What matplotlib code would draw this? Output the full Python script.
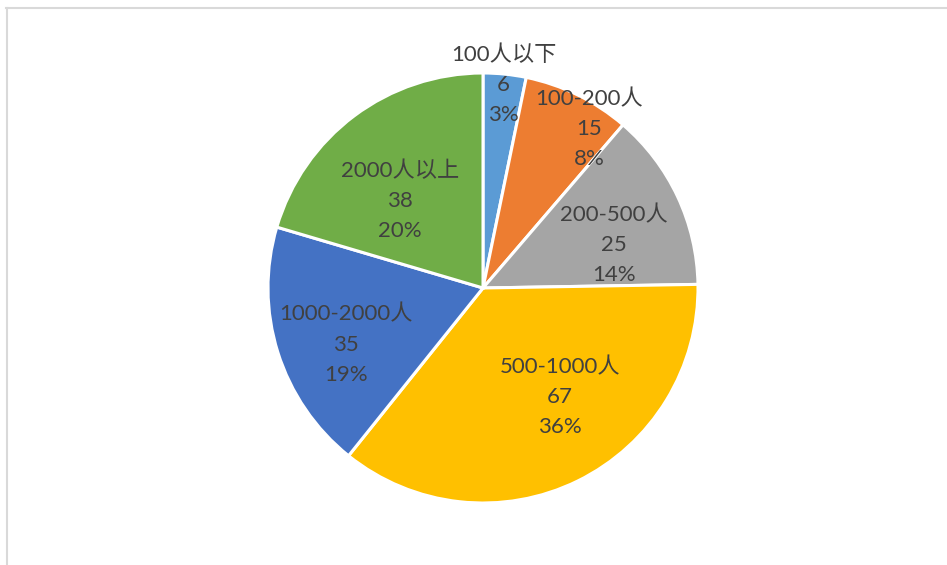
import numpy as np
import matplotlib.pyplot as plt
from matplotlib.lines import Line2D

# Data
labels = ['100人以下', '100-200人', '200-500人', '500-1000人', '1000-2000人', '2000人以上']
values = [6, 15, 25, 67, 35, 38]
colors = ['#5B9BD5', '#ED7D31', '#A5A5A5', '#FFC000', '#4472C4', '#70AD47']

# label placement (fraction of radius, angle shift in degrees, clockwise)
label_r = [0.95, 0.89, 0.64, 0.62, 0.69, 0.56]
label_shift = [0, 7.5, 7, -9, -5, -7]

plt.rcParams['font.family'] = ['Lato', 'Noto Sans CJK SC', 'DejaVu Sans']


def round_pcts(vals):
    # largest remainder so the shown percentages add up to 100
    raw = np.array(vals) / sum(vals) * 100
    out = np.floor(raw).astype(int)
    rest = raw - out
    for i in np.argsort(-rest)[:100 - out.sum()]:
        out[i] += 1
    return out


fig = plt.figure(figsize=(9.47, 5.65), dpi=100)
ax = fig.add_axes([268 / 947, 62 / 565, 430 / 947, 430 / 565])

wedges, _ = ax.pie(values, colors=colors, startangle=90, counterclock=False,
                   radius=1, wedgeprops=dict(edgecolor='white', linewidth=2.2))
ax.set_xlim(-1, 1)
ax.set_ylim(-1, 1)
ax.set_aspect('equal')
ax.axis('off')

pcts = round_pcts(values)
for w, lab, v, p, r, s in zip(wedges, labels, values, pcts, label_r, label_shift):
    mid = (w.theta1 + w.theta2) / 2 - s
    x = r * np.cos(np.radians(mid))
    y = r * np.sin(np.radians(mid))
    ax.text(x, y, lab + '\n' + str(v) + '\n' + str(p) + '%', ha='center', va='center',
            fontsize=16, color='#404040', linespacing=1.62)

# chart border (top and left visible)
fig.add_artist(Line2D([6 / 947, 946 / 947], [1 - 8 / 565, 1 - 8 / 565],
                      color='#D9D9D9', lw=1.5, transform=fig.transFigure))
fig.add_artist(Line2D([7 / 947, 7 / 947], [0, 1 - 8 / 565],
                      color='#D9D9D9', lw=1.5, transform=fig.transFigure))

fig.savefig('out.png', dpi=100)
